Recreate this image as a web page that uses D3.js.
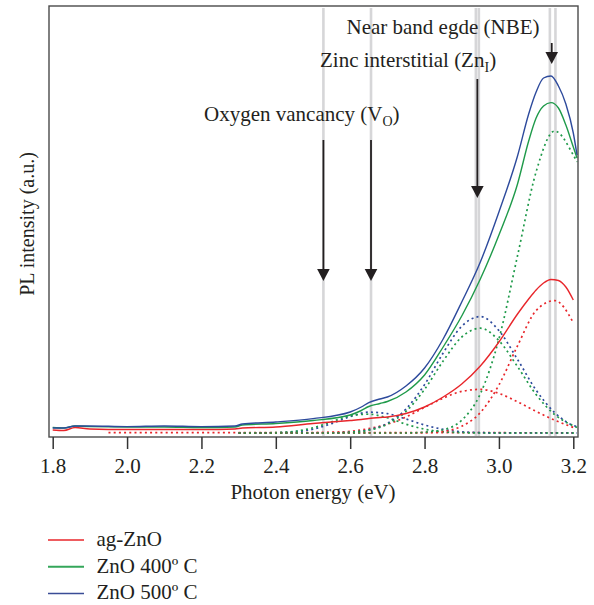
<!DOCTYPE html>
<html lang="en">
<head>
<meta charset="UTF-8">
<title>PL spectra</title>
<style>
  body { margin: 0; background: #fff; }
  svg text { font-family: "Liberation Serif", "DejaVu Serif", serif; fill: #231f20; }
  .xAxis .domain { display: none; }
  .xAxis .tick line { stroke: #333; stroke-width: 1.5; }
</style>
</head>
<body>
<div id="chart"></div>
<script src="https://d3js.org/d3.v7.min.js"></script>
<script>
// measured spectra (photon energy in eV, intensity in a.u.)
const solidE = [1.80, 1.83, 1.86, 1.90, 2.00, 2.10, 2.20, 2.29, 2.31, 2.40, 2.50, 2.60, 2.63, 2.65, 2.68, 2.70,
                2.75, 2.80, 2.85, 2.90, 2.95, 3.00, 3.05, 3.08, 3.10, 3.12, 3.14, 3.16, 3.18, 3.20, 3.21];
const agZnO = [.0075, .00625, .01375, .01, .00875, .00875, .00875, .01, .0125, .015, .02375, .03125, .03375, .03625, .03875, .04,
               .04875, .065, .09, .1225, .1675, .2275, .2975, .335, .3575, .375, .38375, .38125, .365, .3325, null];
const zno400 = [.01375, .0125, .0175, .016, .015, .015, .01375, .015, .02, .02375, .03125, .045, .05625, .06625, .07375, .07875,
                .1025, .145, .215, .2925, .385, .495, .6225, .73, .7875, .8175, .826, .8125, .77, .715, .6875];
const zno500 = [.0125, .0125, .0175, .0175, .016, .0175, .016, .0175, .0225, .0275, .036, .0525, .065, .076, .085, .09,
                .1175, .1625, .235, .3275, .4275, .5525, .6925, .7975, .8525, .8875, .8925, .8675, .8225, .75, .695];

// fitted components (dotted)
const fitE = [2.30, 2.35, 2.40, 2.45, 2.50, 2.55, 2.60, 2.65, 2.70, 2.75, 2.80, 2.85, 2.90, 2.95, 3.00, 3.05, 3.10, 3.15, 3.20, 3.21];
const z500VO = [0, 0, .0006, .003, .0095, .0235, .041, .052, .0485, .035, .02, .009, .003, .001, 0, 0, 0, 0, 0, 0];
const z500Zn = [0, 0, 0, 0, 0, 0, .002, .008, .024, .06, .121, .2, .267, .291, .256, .184, .107, .051, .019, .016];
const z400VO = [0, .0002, .001, .004, .013, .028, .043, .047, .038, .022, .0095, .003, .001, 0, 0, 0, 0, 0, 0, 0];
const z400Zn = [0, 0, 0, 0, 0, 0, .002, .007, .022, .054, .109, .18, .24, .262, .231, .166, .096, .046, .018, .014];
const z400NBE = [0, 0, 0, 0, 0, 0, 0, 0, 0, 0, .002, .008, .032, .098, .235, .443, .653, .755, .695, .678];
const agZn = [0, 0, 0, 0, .0005, .002, .004, .011, .022, .04, .064, .087, .104, .109, .099, .078, .054, .032, .014, null];
const agNBE = [0, 0, 0, 0, 0, 0, 0, 0, 0, 0, .001, .004, .017, .051, .12, .218, .306, .331, .276, null];
const agBaseE = [1.95, 2.40, 2.90, 3.20];
const agBase = [.001, .001, .0008, .0005];

const xTicks = [1.8, 2.0, 2.2, 2.4, 2.6, 2.8, 3.0, 3.2];
const refLines = [2.528, 2.656, 2.938, 2.946, 3.137, 3.152];
const legendNames = ['ag-ZnO', 'ZnO 400º C', 'ZnO 500º C'];

const W = 594, H = 605;
const frame = { left: 49, right: 578, top: 6, bottom: 437 };
const colors = { ag: '#e8262b', z400: '#1f9a4a', z500: '#2d4a9c' };

const svg = d3.select('#chart').append('svg').attr('width', W).attr('height', H);

const x = d3.scaleLinear().domain([1.8, 3.2]).range([52.7, 573.3]);
const y = d3.scaleLinear().domain([0, 1]).range([433, 33]);

// grey reference lines at the emission energies
svg.append('g').selectAll('line')
   .data(refLines)
   .join('line')
   .attr('x1', d => x(d)).attr('x2', d => x(d))
   .attr('y1', frame.top + 2).attr('y2', frame.bottom - 1)
   .attr('stroke', '#d6d6d8')
   .attr('stroke-width', 2.6);

const line = (xs) => d3.line()
   .defined(d => d[1] !== null)
   .x(d => x(xs[d[0]]))
   .y(d => y(d[1]))
   .curve(d3.curveMonotoneX);

const toPts = arr => arr.map((v, i) => [i, v]);

// dotted components
const comps = [
  { xs: agBaseE, v: agBase, c: colors.ag },
  { xs: fitE, v: z500VO, c: colors.z500 },
  { xs: fitE, v: z400VO, c: colors.z400 },
  { xs: fitE, v: agZn, c: colors.ag },
  { xs: fitE, v: z500Zn, c: colors.z500 },
  { xs: fitE, v: z400Zn, c: colors.z400 },
  { xs: fitE, v: agNBE, c: colors.ag },
  { xs: fitE, v: z400NBE, c: colors.z400 }
];
svg.append('g').selectAll('path')
   .data(comps)
   .join('path')
   .attr('d', d => line(d.xs)(toPts(d.v)))
   .attr('fill', 'none')
   .attr('stroke', d => d.c)
   .attr('stroke-width', 1.7)
   .attr('stroke-dasharray', '2,3.2');

// measured curves
const series = [
  { v: agZnO, c: colors.ag },
  { v: zno400, c: colors.z400 },
  { v: zno500, c: colors.z500 }
];
svg.append('g').selectAll('path')
   .data(series)
   .join('path')
   .attr('d', d => line(solidE)(toPts(d.v)))
   .attr('fill', 'none')
   .attr('stroke', d => d.c)
   .attr('stroke-width', 1.4);

// frame
svg.append('rect')
   .attr('x', frame.left).attr('y', frame.top)
   .attr('width', frame.right - frame.left)
   .attr('height', frame.bottom - frame.top)
   .attr('fill', 'none')
   .attr('stroke', '#4a4a4a')
   .attr('stroke-width', 1.4);

// x axis
const xAxis = d3.axisBottom(x)
   .tickValues(xTicks)
   .tickFormat(d3.format('.1f'))
   .tickSizeInner(12)
   .tickSizeOuter(0)
   .tickPadding(9);
svg.append('g')
   .attr('class', 'xAxis')
   .attr('transform', `translate(0, ${frame.bottom})`)
   .call(xAxis)
   .selectAll('text')
   .style('font-size', '21px')
   .style('fill', '#231f20');

svg.append('text')
   .attr('x', 313).attr('y', 499)
   .attr('text-anchor', 'middle')
   .style('font-size', '21px')
   .text('Photon energy (eV)');

svg.append('text')
   .attr('transform', 'translate(34, 224) rotate(-90)')
   .attr('text-anchor', 'middle')
   .style('font-size', '20px')
   .text('PL intensity (a.u.)');

// arrows
const arrows = [
  { e: 2.528, y1: 140, y2: 281 },
  { e: 2.656, y1: 140, y2: 281 },
  { e: 2.942, y1: 79, y2: 198 },
  { e: 3.142, y1: 43, y2: 64 }
];
const ag = svg.append('g').selectAll('g').data(arrows).join('g');
ag.append('line')
  .attr('x1', d => x(d.e)).attr('x2', d => x(d.e))
  .attr('y1', d => d.y1).attr('y2', d => d.y2 - 8)
  .attr('stroke', '#231f20')
  .attr('stroke-width', 1.8);
ag.append('path')
  .attr('d', d => `M${x(d.e) - 6.3},${d.y2 - 12} L${x(d.e) + 6.3},${d.y2 - 12} L${x(d.e)},${d.y2} Z`)
  .attr('fill', '#231f20');

// labels with subscripts
const label = (tx, ty, main, sub) => {
  const t = svg.append('text').attr('x', tx).attr('y', ty).style('font-size', '21px');
  t.append('tspan').text(main);
  if (sub) {
    t.append('tspan').attr('dy', 5).style('font-size', '14px').text(sub);
    t.append('tspan').attr('dy', -5).text(')');
  }
};
label(346.5, 33.5, 'Near band egde (NBE)');
label(320, 67, 'Zinc interstitial (Zn', 'I');
label(204, 121, 'Oxygen vancancy (V', 'O');

// legend
const legendColors = [colors.ag, '#34a65a', '#3a4d96'];
const lg = svg.append('g').selectAll('g').data(legendNames).join('g')
   .attr('transform', (d, i) => `translate(0, ${540 + i * 26.7})`);
lg.append('line')
  .attr('x1', 48).attr('x2', 84)
  .attr('stroke', (d, i) => legendColors[i])
  .attr('stroke-width', (d, i) => i === 1 ? 2 : 1.5);
lg.append('text')
  .attr('x', 96.5).attr('y', 6)
  .style('font-size', '21px')
  .text(d => d);
</script>
</body>
</html>
